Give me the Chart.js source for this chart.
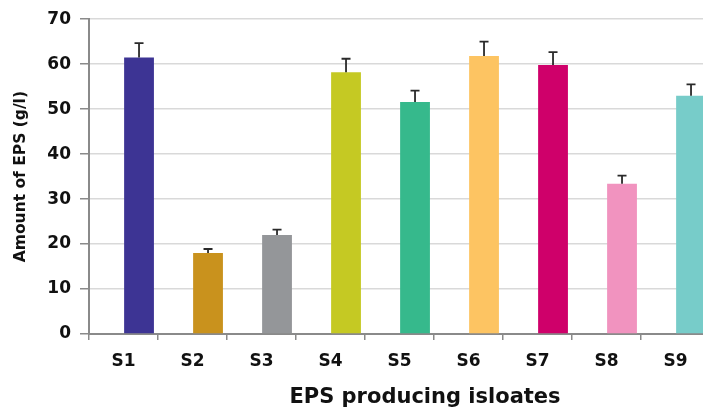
<!DOCTYPE html>
<html>
<head>
<meta charset="utf-8">
<script src="https://cdn.jsdelivr.net/npm/chart.js@4"></script>
<style>
  html, body { margin: 0; padding: 0; background: #fff; overflow: hidden; }
  #wrap { width: 710px; height: 416px; position: relative; }
</style>
</head>
<body>
<div id="wrap"><canvas id="epsChart"></canvas></div>
<script>
// === Data ===
const isolates = ['S1', 'S2', 'S3', 'S4', 'S5', 'S6', 'S7', 'S8', 'S9'];
const epsAmount = [61.5, 18.0, 22.0, 58.2, 51.6, 61.8, 59.8, 33.4, 53.0];
const epsError = [3.2, 0.9, 1.2, 3.0, 2.5, 3.2, 2.9, 1.8, 2.5];
const barColors = ['#3d3494', '#c9921d', '#949699', '#c5c923', '#36b98c',
                   '#fdc462', '#cf006a', '#f193bf', '#77ccc9'];
// empty first series: in the original each bar sits in the right half of its slot
const spacer = [null, null, null, null, null, null, null, null, null];
const yTicks = [0, 10, 20, 30, 40, 50, 60, 70];

const FONT = '"DejaVu Sans", sans-serif';
const AXIS_GREY = '#8a8a8a';
const TEXT = '#111111';

// upward-only error bars on the data series
const errorBars = {
  id: 'errorBars',
  afterDatasetsDraw(chart) {
    const ctx = chart.ctx;
    const meta = chart.getDatasetMeta(1);
    const y = chart.scales.y;
    ctx.save();
    ctx.strokeStyle = '#2a2a2a';
    ctx.lineWidth = 1.8;
    meta.data.forEach((bar, i) => {
      const top = y.getPixelForValue(epsAmount[i] + epsError[i]);
      ctx.beginPath();
      ctx.moveTo(bar.x, bar.y);
      ctx.lineTo(bar.x, top);
      ctx.moveTo(bar.x - 4.5, top);
      ctx.lineTo(bar.x + 4.5, top);
      ctx.stroke();
    });
    ctx.restore();
  }
};

// x axis title, sits a little right of the plot centre in the original
const xTitle = {
  id: 'xTitle',
  afterDraw(chart) {
    const ctx = chart.ctx;
    ctx.save();
    ctx.font = 'bold 21px ' + FONT;
    ctx.fillStyle = TEXT;
    ctx.textAlign = 'center';
    ctx.textBaseline = 'alphabetic';
    ctx.fillText('EPS producing isloates', 425, 403);
    ctx.restore();
  }
};

new Chart(document.getElementById('epsChart').getContext('2d'), {
  type: 'bar',
  data: {
    labels: isolates,
    datasets: [
      { label: '', data: spacer, backgroundColor: 'rgba(0,0,0,0)' },
      { label: 'EPS', data: epsAmount, backgroundColor: barColors, borderWidth: 0 }
    ]
  },
  options: {
    responsive: true,
    maintainAspectRatio: false,
    animation: false,
    devicePixelRatio: 1,
    categoryPercentage: 0.9,
    barPercentage: 0.96,
    layout: { padding: { top: 17, right: 0, bottom: 0, left: 0 } },
    plugins: {
      legend: { display: false },
      tooltip: { enabled: false }
    },
    scales: {
      x: {
        afterFit(scale) { scale.height = 82; },
        grid: {
          offset: true,
          drawOnChartArea: false,
          drawTicks: true,
          tickLength: 6,
          tickColor: AXIS_GREY,
          lineWidth: 1.5
        },
        border: { color: AXIS_GREY, width: 2 },
        ticks: {
          color: TEXT,
          padding: 11,
          font: { family: FONT, size: 17, weight: 'bold' }
        }
      },
      y: {
        min: 0,
        max: 70,
        afterFit(scale) { scale.width = 89; },
        afterBuildTicks(scale) { scale.ticks = yTicks.map(v => ({ value: v })); },
        grid: {
          color: '#d9d9d9',
          lineWidth: 1.5,
          drawTicks: true,
          tickLength: 9,
          tickColor: AXIS_GREY
        },
        border: { color: AXIS_GREY, width: 2 },
        ticks: {
          color: TEXT,
          padding: 9,
          font: { family: FONT, size: 17, weight: 'bold' }
        },
        title: {
          display: true,
          text: 'Amount of EPS (g/l)',
          color: TEXT,
          padding: { top: 12, bottom: 0 },
          font: { family: FONT, size: 15.5, weight: 'bold' }
        }
      }
    }
  },
  plugins: [errorBars, xTitle]
});
</script>
</body>
</html>
